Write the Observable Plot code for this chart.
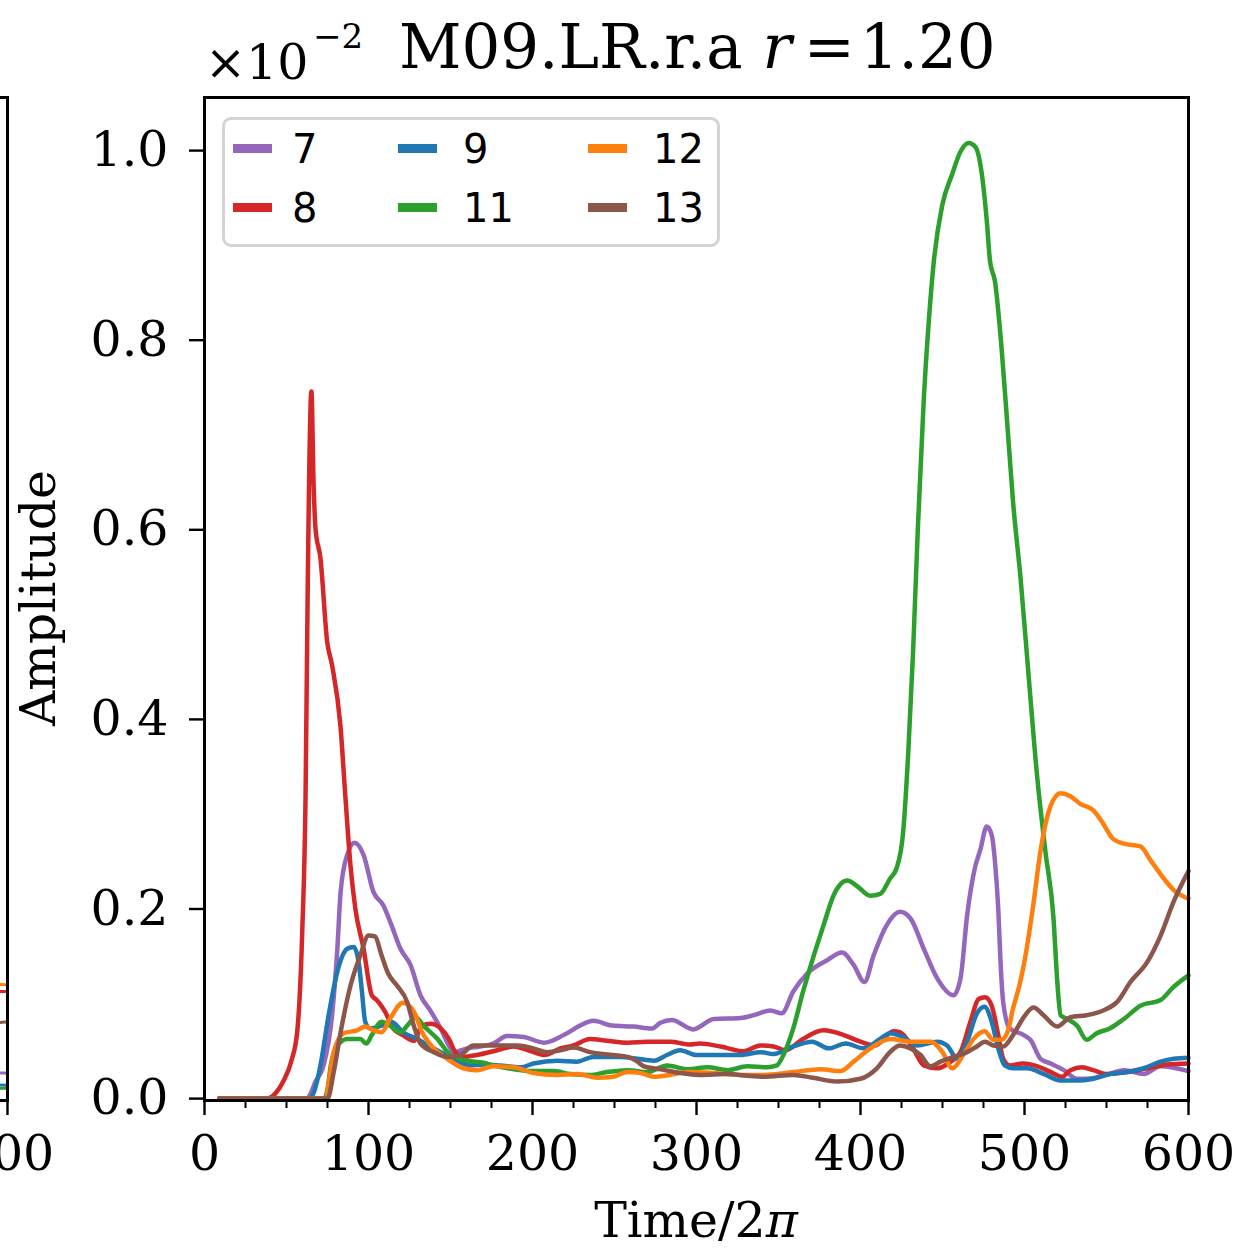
<!DOCTYPE html>
<html><head><meta charset="utf-8">
<script src="https://cdn.jsdelivr.net/npm/d3@7"></script>
<script src="https://cdn.jsdelivr.net/npm/@observablehq/plot@0.6"></script>
<style>
body{margin:0;background:#fff;}
#wrap{position:relative;width:1239px;height:1249px;overflow:hidden;background:#fff;}
#wrap svg{position:absolute;top:0;max-width:none;}
.txt{position:absolute;white-space:pre;line-height:1;font-family:"DejaVu Serif";color:#000;}
#legend{position:absolute;left:222px;top:117px;width:492px;height:124px;border:3px solid #d4d4d4;border-radius:9px;background:rgba(255,255,255,0.8);}
.sw{position:absolute;height:9px;width:39px;}
.lab{position:absolute;font-family:"DejaVu Sans";font-size:40px;line-height:1;color:#000;}
</style></head><body><div id="wrap"></div>
<script>
// series (mode numbers) and colours
const modes = ["7", "8", "9", "11", "12", "13"];
const colors = ["#9467bd", "#d62728", "#1f77b4", "#2ca02c", "#ff7f0e", "#8c564b"];

// axis ticks
const xTicks = [0, 100, 200, 300, 400, 500, 600];
const xMinorTicks = [25, 50, 75, 125, 150, 175, 225, 250, 275, 325, 350, 375, 425, 450, 475, 525, 550, 575];
const yTicks = [0, 0.2, 0.4, 0.6, 0.8, 1.0];

// mode 7 (purple)
const t7 = [9, 62, 64, 67.7, 72.6, 77.8, 81, 83, 87, 91.5, 97, 103, 109, 114, 119.5, 125.6, 131.7, 138, 144, 149, 152, 160, 168, 176, 184.5, 194.5, 207, 219, 229, 237, 249, 261.6, 273, 278, 285, 298, 310.6, 327, 335, 345, 352, 359, 367.5, 379.7, 388.8, 395.8, 402.4, 408, 416, 424, 430.5, 438.6, 446.7, 456.7, 461, 465, 470, 473, 477, 480, 482, 484, 485.5, 487, 491, 499.6, 503.6, 509.8, 516, 524, 532, 538, 550, 560.6, 572.7, 583, 600];
const a7 = [0, 0, 0.003, 0.018, 0.035, 0.088, 0.158, 0.218, 0.257, 0.270, 0.257, 0.218, 0.204, 0.183, 0.158, 0.141, 0.109, 0.092, 0.074, 0.056, 0.049, 0.053, 0.055, 0.058, 0.066, 0.065, 0.059, 0.067, 0.077, 0.082, 0.077, 0.076, 0.074, 0.080, 0.083, 0.073, 0.084, 0.085, 0.088, 0.093, 0.090, 0.113, 0.132, 0.146, 0.154, 0.141, 0.123, 0.151, 0.183, 0.197, 0.190, 0.158, 0.127, 0.109, 0.127, 0.193, 0.245, 0.262, 0.287, 0.278, 0.250, 0.200, 0.140, 0.102, 0.074, 0.067, 0.062, 0.042, 0.037, 0.030, 0.021, 0.021, 0.025, 0.030, 0.026, 0.034, 0.029];

// mode 8 (red)
const t8 = [9, 38, 43, 48, 53, 56.5, 59.6, 61.6, 63, 65.2, 66.5, 67.7, 70.7, 74.8, 77.8, 82.9, 86, 89, 92, 97, 102, 105, 110, 115, 121, 127.6, 132.7, 138, 144, 149, 153, 158, 166, 178.5, 188.6, 198.8, 207, 217, 225, 235, 245.5, 258, 270, 284, 296, 302, 314.6, 328.7, 339, 347, 354, 365, 377.5, 389.8, 400, 409, 420, 424, 432, 438.6, 446.7, 455, 461, 467, 472, 476, 480, 484, 487, 491, 499, 508, 516, 523, 528, 535, 542, 550, 562.6, 575, 587, 600];
const a8 = [0, 0, 0.005, 0.018, 0.040, 0.070, 0.176, 0.316, 0.550, 0.746, 0.650, 0.601, 0.570, 0.482, 0.457, 0.393, 0.316, 0.246, 0.200, 0.158, 0.109, 0.104, 0.092, 0.074, 0.067, 0.061, 0.077, 0.079, 0.074, 0.063, 0.049, 0.044, 0.046, 0.051, 0.055, 0.050, 0.046, 0.053, 0.056, 0.063, 0.061, 0.059, 0.060, 0.060, 0.057, 0.058, 0.055, 0.050, 0.056, 0.055, 0.051, 0.063, 0.072, 0.067, 0.060, 0.056, 0.071, 0.070, 0.053, 0.035, 0.032, 0.039, 0.049, 0.081, 0.105, 0.107, 0.098, 0.067, 0.042, 0.035, 0.037, 0.034, 0.028, 0.023, 0.030, 0.033, 0.030, 0.026, 0.028, 0.032, 0.036, 0.037];

// mode 9 (blue)
const t9 = [9, 64, 67, 70.7, 75.7, 81, 87, 91, 94, 96, 98, 101, 108, 114, 121, 129.7, 139.8, 152, 162, 170, 180, 192.7, 200.6, 215, 227, 237, 253.7, 264, 274, 282, 290, 300, 314.6, 327, 339, 347, 359, 370.5, 380.5, 391, 402, 412, 418, 426, 434.6, 446.7, 452.8, 459, 465, 471, 475.6, 480, 484, 488, 493, 501.6, 511.6, 522, 532, 542, 552, 562.6, 572.7, 583, 591, 600];
const a9 = [0, 0, 0.008, 0.035, 0.088, 0.134, 0.158, 0.160, 0.144, 0.113, 0.081, 0.074, 0.077, 0.081, 0.070, 0.063, 0.053, 0.042, 0.035, 0.036, 0.035, 0.033, 0.037, 0.040, 0.039, 0.044, 0.044, 0.042, 0.040, 0.046, 0.051, 0.046, 0.046, 0.046, 0.049, 0.047, 0.055, 0.060, 0.053, 0.058, 0.053, 0.063, 0.069, 0.065, 0.056, 0.060, 0.056, 0.042, 0.060, 0.090, 0.097, 0.081, 0.053, 0.035, 0.032, 0.032, 0.026, 0.019, 0.019, 0.021, 0.026, 0.028, 0.032, 0.039, 0.042, 0.043];

// mode 11 (green)
const t11 = [9, 73, 75, 77, 81, 87, 95, 98.6, 102, 108, 113, 119.5, 123.6, 128.7, 133.5, 142, 150, 160, 170, 176, 188.6, 198.8, 213, 223, 235, 245.5, 258, 270, 282, 294.5, 306.7, 319, 331, 343, 349, 353, 359, 365, 371, 377.5, 383.5, 392, 398, 406, 412, 418, 422, 426, 429, 432, 435, 438.6, 441.6, 444.7, 449.8, 455.9, 461, 466, 470, 474, 477, 479, 482, 486, 490, 493, 497.6, 502.7, 507.7, 512.8, 517.7, 520, 522, 526, 532, 538, 544, 552, 560.6, 570.7, 583, 591, 600];
const a11 = [0, 0, 0.010, 0.035, 0.056, 0.063, 0.063, 0.058, 0.067, 0.081, 0.077, 0.070, 0.077, 0.086, 0.077, 0.063, 0.046, 0.040, 0.038, 0.035, 0.031, 0.029, 0.029, 0.026, 0.025, 0.028, 0.030, 0.028, 0.035, 0.031, 0.033, 0.030, 0.034, 0.033, 0.035, 0.046, 0.074, 0.113, 0.148, 0.183, 0.214, 0.230, 0.224, 0.214, 0.216, 0.232, 0.243, 0.281, 0.361, 0.469, 0.603, 0.738, 0.819, 0.883, 0.942, 0.975, 0.999, 1.008, 1.004, 0.975, 0.926, 0.883, 0.862, 0.792, 0.700, 0.630, 0.549, 0.442, 0.340, 0.260, 0.190, 0.123, 0.088, 0.084, 0.077, 0.062, 0.069, 0.074, 0.084, 0.098, 0.104, 0.118, 0.130];

// mode 12 (orange)
const t12 = [9, 74, 76, 78.8, 85, 93, 98, 103, 108, 113, 121, 127.6, 132.7, 139.8, 148, 158, 166, 176, 188.6, 200.6, 215, 227, 239.6, 249, 258, 266, 274, 284, 294.5, 310.6, 327, 341, 359, 375.6, 387.8, 395.8, 406, 418, 430.5, 442.7, 450, 456, 463, 469, 475.6, 481, 486, 490, 493, 497, 500, 505, 510, 516, 522, 528, 534, 542, 548, 554, 560.6, 570.7, 577, 585, 591, 600];
const a12 = [0, 0, 0.020, 0.049, 0.069, 0.072, 0.076, 0.072, 0.070, 0.084, 0.101, 0.092, 0.070, 0.053, 0.042, 0.032, 0.030, 0.034, 0.033, 0.027, 0.025, 0.026, 0.022, 0.023, 0.028, 0.027, 0.023, 0.025, 0.028, 0.027, 0.025, 0.025, 0.028, 0.031, 0.029, 0.039, 0.053, 0.063, 0.060, 0.060, 0.049, 0.032, 0.047, 0.063, 0.071, 0.062, 0.062, 0.072, 0.095, 0.120, 0.145, 0.200, 0.264, 0.309, 0.322, 0.319, 0.311, 0.304, 0.290, 0.274, 0.269, 0.266, 0.251, 0.232, 0.220, 0.211];

// mode 13 (brown)
const t13 = [9, 75, 78.8, 83, 89, 95, 100, 104, 108, 112, 117.5, 123.6, 127.6, 131.7, 139.8, 148, 156, 164, 174, 190.8, 200.6, 209, 217, 225, 235, 249, 258, 264, 268, 278, 290, 302, 319, 331, 341, 359, 371, 385.8, 400, 410, 418, 424, 430.5, 436.6, 442.7, 448.8, 456.7, 465, 471, 476, 481, 487, 493, 499.6, 505.5, 511.6, 520, 528, 538, 548, 556.5, 564.6, 574.8, 583, 591, 600];
const a13 = [0, 0, 0.028, 0.070, 0.119, 0.151, 0.172, 0.171, 0.151, 0.132, 0.119, 0.102, 0.077, 0.058, 0.049, 0.044, 0.046, 0.056, 0.056, 0.056, 0.053, 0.049, 0.051, 0.054, 0.049, 0.046, 0.044, 0.039, 0.034, 0.031, 0.027, 0.025, 0.026, 0.024, 0.023, 0.025, 0.022, 0.018, 0.021, 0.032, 0.049, 0.056, 0.053, 0.046, 0.034, 0.039, 0.044, 0.049, 0.055, 0.060, 0.056, 0.055, 0.067, 0.086, 0.096, 0.088, 0.076, 0.086, 0.088, 0.093, 0.102, 0.123, 0.144, 0.172, 0.208, 0.240];

// neighbouring (clipped) panel: tail ends of the same six modes
const leftT = [585, 600];
const left7 = [0.027, 0.027];
const left8 = [0.113, 0.113];
const left9 = [0.015, 0.014];
const left11 = [0.011, 0.011];
const left12 = [0.121, 0.120];
const left13 = [0.079, 0.081];

const series = [[t7, a7], [t8, a8], [t9, a9], [t11, a11], [t12, a12], [t13, a13]];
const rows = [];
series.forEach(([t, a], i) => t.forEach((v, j) => rows.push({mode: modes[i], t: v, a: a[j]})));
const leftSeries = [left7, left8, left9, left11, left12, left13];
const leftRows = [];
leftSeries.forEach((a, i) => leftT.forEach((v, j) => leftRows.push({mode: modes[i], t: v, a: a[j]})));

const common = {
  width: 1239, height: 1249,
  marginLeft: 204, marginRight: 51, marginTop: 97, marginBottom: 149,
  x: {domain: [0, 600]},
  color: {domain: modes, range: colors},
  style: {fontFamily: "DejaVu Serif", fontSize: "49px", color: "black", background: "transparent", overflow: "visible"}
};

const wrap = document.getElementById("wrap");

const leftPlot = Plot.plot({
  ...common,
  y: {domain: [-0.002, 1.056], axis: null},
  marks: [
    Plot.axisX([600], {tickSize: 15, strokeWidth: 2.4, tickPadding: 20, label: null}),
    Plot.line(leftRows, {x: "t", y: "a", z: "mode", stroke: "mode", strokeWidth: 3}),
    Plot.frame({stroke: "black", strokeWidth: 3})
  ]
});
leftPlot.style.left = (7 - 1188) + "px";
wrap.appendChild(leftPlot);

const main = Plot.plot({
  ...common,
  y: {domain: [-0.002, 1.056]},
  marks: [
    Plot.axisX(xMinorTicks, {tickSize: 8, strokeWidth: 2, text: null, label: null}),
    Plot.axisX(xTicks, {tickSize: 15, strokeWidth: 2.4, tickPadding: 20, label: null}),
    Plot.axisY(yTicks, {tickSize: 15, strokeWidth: 2.4, tickPadding: 21, label: null, tickFormat: d3.format(".1f")}),
    Plot.line(rows, {x: "t", y: "a", z: "mode", stroke: "mode", strokeWidth: 4.5, curve: "monotone-x"}),
    Plot.frame({stroke: "black", strokeWidth: 3})
  ]
});
main.style.left = "0px";
wrap.appendChild(main);

function addText(html, left, top, size, extra) {
  const d = document.createElement("div");
  d.className = "txt";
  d.innerHTML = html;
  d.style.left = left + "px";
  d.style.top = top + "px";
  d.style.fontSize = size + "px";
  if (extra) Object.assign(d.style, extra);
  wrap.appendChild(d);
  return d;
}
// offset text and title
addText("×10", 205, 38, 49);
addText("−2", 313, 19, 34);
addText('M09.LR.r.a<span style="margin-left:20px"><i>r</i></span><span style="margin-left:12px">=</span><span style="margin-left:5px">1.20</span>', 399, 16, 61);
// axis labels
addText("Time/2<i>π</i>", 696, 1196, 49, {transform: "translateX(-50%)"});
addText("Amplitude", 38, 598, 49, {transform: "translate(-50%,-50%) rotate(-90deg)"});

// legend
const lg = document.createElement("div");
lg.id = "legend";
wrap.appendChild(lg);
const colSw = [233, 398, 588], colLab = [292, 463, 653], rowY = [148, 207];
modes.forEach((m, i) => {
  const c = Math.floor(i / 2), r = i % 2;
  const s = document.createElement("div");
  s.className = "sw";
  s.style.background = colors[i];
  s.style.left = (colSw[c] - 225) + "px";
  s.style.top = (rowY[r] - 4.5 - 120) + "px";
  lg.appendChild(s);
  const l = document.createElement("div");
  l.className = "lab";
  l.textContent = m;
  l.style.left = (colLab[c] - 225) + "px";
  l.style.top = (rowY[r] - 19.5 - 120) + "px";
  lg.appendChild(l);
});
</script>
</body></html>
